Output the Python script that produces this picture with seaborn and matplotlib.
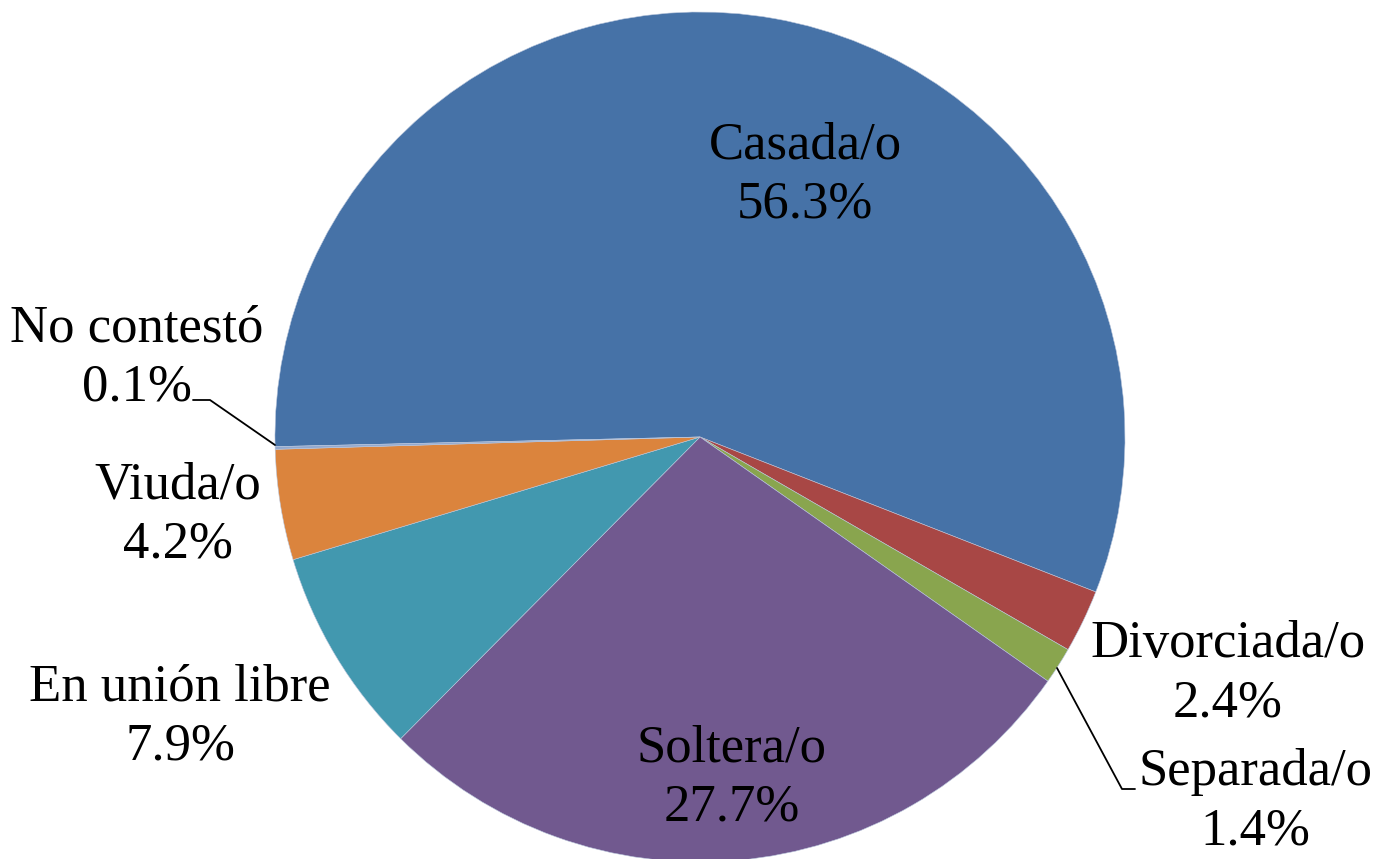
import matplotlib
matplotlib.use("Agg")
import matplotlib.pyplot as plt
import seaborn as sns

# Estado civil de las personas encuestadas (porcentajes)
categories = ["Casada/o", "Divorciada/o", "Separada/o", "Soltera/o",
              "En unión libre", "Viuda/o", "No contestó"]
values = [56.3, 2.4, 1.4, 27.7, 7.9, 4.2, 0.1]
colors = ["#4672A7", "#A84745", "#89A54E", "#71598F",
          "#4298AF", "#DB843D", "#93A9CF"]

sns.set_theme(style="white")
plt.rcParams["font.family"] = ["Liberation Serif", "DejaVu Serif"]

W, H = 1377, 859
fig = plt.figure(figsize=(W / 100, H / 100), dpi=100)
ax = fig.add_axes([0, 0, 1, 1])

cx, cy, r = 700, H - 437, 425
ax.pie(values, colors=colors, startangle=181.3, counterclock=False,
       center=(cx, cy), radius=r, frame=True,
       wedgeprops=dict(linewidth=0.4, edgecolor="#b9c6dc"))
ax.set_xlim(0, W)
ax.set_ylim(0, H)
ax.set_aspect("equal")
ax.axis("off")

# label anchors (pixel positions, y measured from the top)
label_pos = [(805, 175), (1228, 674), (1255, 802), (732, 778),
             (180, 717), (178, 515), (137, 358)]
for name, val, (x, y) in zip(categories, values, label_pos):
    ax.text(x, H - y, f"{name}\n{val:.1f}%", ha="center", va="center",
            multialignment="center", fontsize=38, linespacing=1.3,
            color="black")

# leader lines for the thin slices
ax.plot([193, 210, 275], [H - 400, H - 400, H - 445], color="black", lw=1.3)
ax.plot([1057, 1122, 1135], [H - 668, H - 789, H - 789], color="black", lw=1.3)

fig.savefig("out.png", dpi=100)
